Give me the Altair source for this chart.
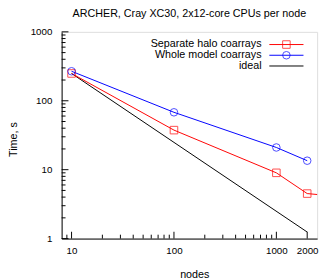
import altair as alt
import pandas as pd

nodes = [10, 100, 1000, 2000]
halo = [249, 37.5, 9.0, 4.5]
whole = [268, 68, 21, 13.5]
ideal_nodes = [10, 2000]
ideal_time = [249, 1.245]
# trailing red segment continues beyond the plotted range (clipped)
halo_extra_x = [2000, 3000]
halo_extra_y = [4.5, 4.25]

x_major = [10, 100, 1000, 2000]
x_minor = [9, 20, 30, 40, 50, 60, 70, 80, 90, 200, 300, 400, 500, 600, 700, 800, 900]
y_major = [1, 10, 100, 1000]
y_minor = [2, 3, 4, 5, 6, 7, 8, 9, 20, 30, 40, 50, 60, 70, 80, 90, 200, 300, 400, 500, 600, 700, 800, 900]

series_names = ["Separate halo coarrays", "Whole model coarrays", "ideal"]
series_colors = ["#ff0000", "#0000ff", "#000000"]

W, H = 262, 212
FONT = "Liberation Sans"

xs = alt.Scale(type="log", domain=[8, 2500])
ys = alt.Scale(type="log", domain=[1, 1000])

df = pd.DataFrame({
    "x": nodes * 2,
    "y": halo + whole,
    "s": [series_names[0]] * 4 + [series_names[1]] * 4,
})
df_ideal = pd.DataFrame({"x": ideal_nodes, "y": ideal_time})
df_extra = pd.DataFrame({"x": halo_extra_x, "y": halo_extra_y})

color = alt.Color("s:N", scale=alt.Scale(domain=series_names[:2], range=series_colors[:2]), legend=None)
shape = alt.Shape("s:N", scale=alt.Scale(domain=series_names[:2], range=["square", "circle"]), legend=None)

base_x = alt.X("x:Q", scale=xs, title="nodes",
               axis=alt.Axis(values=x_major, ticks=False, grid=False, labelPadding=7,
                             format="d", domainColor="black", titlePadding=14, titleX=136,
                             titleFontWeight="normal", titleFont=FONT, titleFontSize=11))
base_y = alt.Y("y:Q", scale=ys, title="Time, s",
               axis=alt.Axis(values=y_major, ticks=False, grid=False, labelPadding=10,
                             format="d", domainColor="black", titlePadding=12, titleY=110,
                             titleFontWeight="normal", titleFont=FONT, titleFontSize=11))

ideal = alt.Chart(df_ideal).mark_line(color="black", strokeWidth=1, clip=True).encode(x=base_x, y=base_y)
extra = alt.Chart(df_extra).mark_line(color="#ff0000", strokeWidth=1, clip=True).encode(
    x=alt.X("x:Q", scale=xs), y=alt.Y("y:Q", scale=ys))
lines = alt.Chart(df).mark_line(strokeWidth=1, clip=True).encode(
    x=alt.X("x:Q", scale=xs), y=alt.Y("y:Q", scale=ys), color=color, detail="s:N")
points = alt.Chart(df).mark_point(filled=False, size=60, strokeWidth=1, clip=True).encode(
    x=alt.X("x:Q", scale=xs), y=alt.Y("y:Q", scale=ys), color=color, shape=shape)

def xticks(vals, length):
    return alt.Chart(pd.DataFrame({"x": vals})).mark_rule(color="black", strokeWidth=1).encode(
        x=alt.X("x:Q", scale=xs), y=alt.value(H), y2=alt.value(H - length))

def yticks(vals, length):
    return alt.Chart(pd.DataFrame({"y": vals})).mark_rule(color="black", strokeWidth=1).encode(
        y=alt.Y("y:Q", scale=ys), x=alt.value(0), x2=alt.value(length))

# legend (gnuplot style: label right-aligned, sample to the right)
ROW0, DY = 13, 11
TX, L0, L1 = 205, 213, 248
leg_layers = []
for i, (nm, col) in enumerate(zip(series_names, series_colors)):
    d = pd.DataFrame({"s": [nm]})
    yy = ROW0 + i * DY
    leg_layers.append(alt.Chart(d).mark_text(align="right", baseline="middle", fontSize=11, font=FONT,
                                             color="black").encode(
        text="s:N", x=alt.value(TX), y=alt.value(yy)))
    leg_layers.append(alt.Chart(d).mark_rule(color=col, strokeWidth=1).encode(
        x=alt.value(L0), x2=alt.value(L1), y=alt.value(yy)))
    if i < 2:
        leg_layers.append(alt.Chart(d).mark_point(filled=False, size=60, strokeWidth=1, color=col,
                                                  shape=["square", "circle"][i]).encode(
            x=alt.value((L0 + L1) / 2), y=alt.value(yy)))

chart = alt.layer(
    ideal, extra, lines, points,
    xticks(x_major, 7), xticks(x_minor, 4),
    yticks(y_major, 7), yticks(y_minor, 4),
    *leg_layers,
).properties(
    width=W, height=H,
    title=alt.TitleParams("ARCHER, Cray XC30, 2x12-core CPUs per node", fontSize=11, font=FONT,
                          fontWeight="normal", anchor="middle", offset=8),
    autosize=alt.AutoSizeParams(type="none"),
    padding={"left": 55, "top": 21, "right": 5, "bottom": 39},
).configure_view(stroke=None).configure_axis(
    labelFont=FONT, titleFont=FONT, labelFontSize=11, titleFontSize=11, titleFontWeight="normal",
    labelColor="black", titleColor="black", domainWidth=1,
).configure(background="white")

chart.save("out.html", embed_options={"renderer": "svg", "actions": False})
